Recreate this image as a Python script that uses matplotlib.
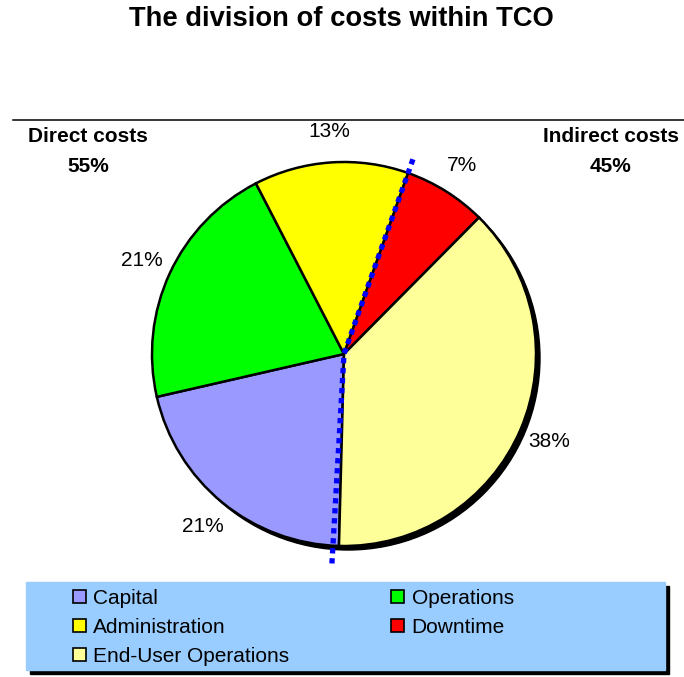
import numpy as np
import matplotlib
matplotlib.use("Agg")
from matplotlib import pyplot as plt
from matplotlib.patches import Rectangle, Circle, Patch

plt.rcParams['font.family'] = ['Liberation Sans', 'DejaVu Sans']

# Data
categories = ["Capital", "Operations", "Administration", "Downtime", "End-User Operations"]
shares = [21, 21, 13, 7, 38]
colours = ["#9999FF", "#00FF00", "#FFFF00", "#FF0000", "#FFFF99"]
direct_names = ["Capital", "Operations", "Administration"]
title = "The division of costs within TCO"

# Canvas in pixel units (y measured from the top of the picture)
W, H = 684, 677


def Y(py):
    return H - py


fig = plt.figure(figsize=(W / 100, H / 100), dpi=100)
ax = fig.add_axes([0, 0, 1, 1])

cx, cy, rad = 344, Y(354), 192
start = -91.5

# shadow behind the pie
ax.add_patch(Circle((cx + 4, cy - 4), rad, color="black", zorder=0))

wedges, texts, autotexts = ax.pie(
    shares, colors=colours, startangle=start, counterclock=False,
    center=(cx, cy), radius=rad, autopct='%1.0f%%', pctdistance=1.16,
    wedgeprops=dict(edgecolor="black", linewidth=1.8),
    textprops=dict(fontsize=15, color="black"))
for w in wedges:
    w.set_zorder(1)

# direct / indirect split line
direct = sum(s for n, s in zip(categories, shares) if n in direct_names)
indirect = sum(shares) - direct
top_ang = np.deg2rad(start - 360 * direct / sum(shares))
bot_ang = np.deg2rad(start - 1.8)
ax.plot([cx + 1.076 * rad * np.cos(top_ang), cx, cx + 1.10 * rad * np.cos(bot_ang)],
        [cy + 1.076 * rad * np.sin(top_ang), cy, cy + 1.10 * rad * np.sin(bot_ang)],
        color="#0000FF", linewidth=3.8, linestyle=(0, (1, 0.9)), zorder=3)

# header
ax.text(341, Y(19), title, ha="center", va="center", fontsize=19.7, fontweight="bold")
ax.plot([13, 684], [Y(120), Y(120)], color="black", linewidth=1.1)
ax.text(88, Y(137), "Direct costs", ha="center", va="center", fontsize=15, fontweight="bold")
ax.text(88, Y(167), "%d%%" % direct, ha="center", va="center", fontsize=15, fontweight="bold")
ax.text(611, Y(137), "Indirect costs", ha="center", va="center", fontsize=15, fontweight="bold")
ax.text(611, Y(167), "%d%%" % indirect, ha="center", va="center", fontsize=15, fontweight="bold")

# legend box
ax.add_patch(Rectangle((26 + 4, Y(670) - 4), 639, 88, color="black", zorder=4))
ax.add_patch(Rectangle((26, Y(670)), 639, 88, color="#99CCFF", zorder=5))

order = [0, 2, 4, 1, 3]
handles = [Patch(facecolor=colours[i], edgecolor="black", linewidth=1.2) for i in order]
labels = [categories[i] for i in order]
leg = ax.legend(handles, labels, ncol=2, loc="upper left",
                bbox_to_anchor=(73, Y(589)), bbox_transform=ax.transData,
                frameon=False, fontsize=15, borderpad=0, borderaxespad=0,
                handlelength=0.62, handleheight=0.62, handletextpad=0.35,
                labelspacing=0.47, columnspacing=4.9)
leg.set_zorder(6)

ax.set_xlim(0, W)
ax.set_ylim(0, H)
ax.axis('off')
fig.savefig("out.png", dpi=100)
